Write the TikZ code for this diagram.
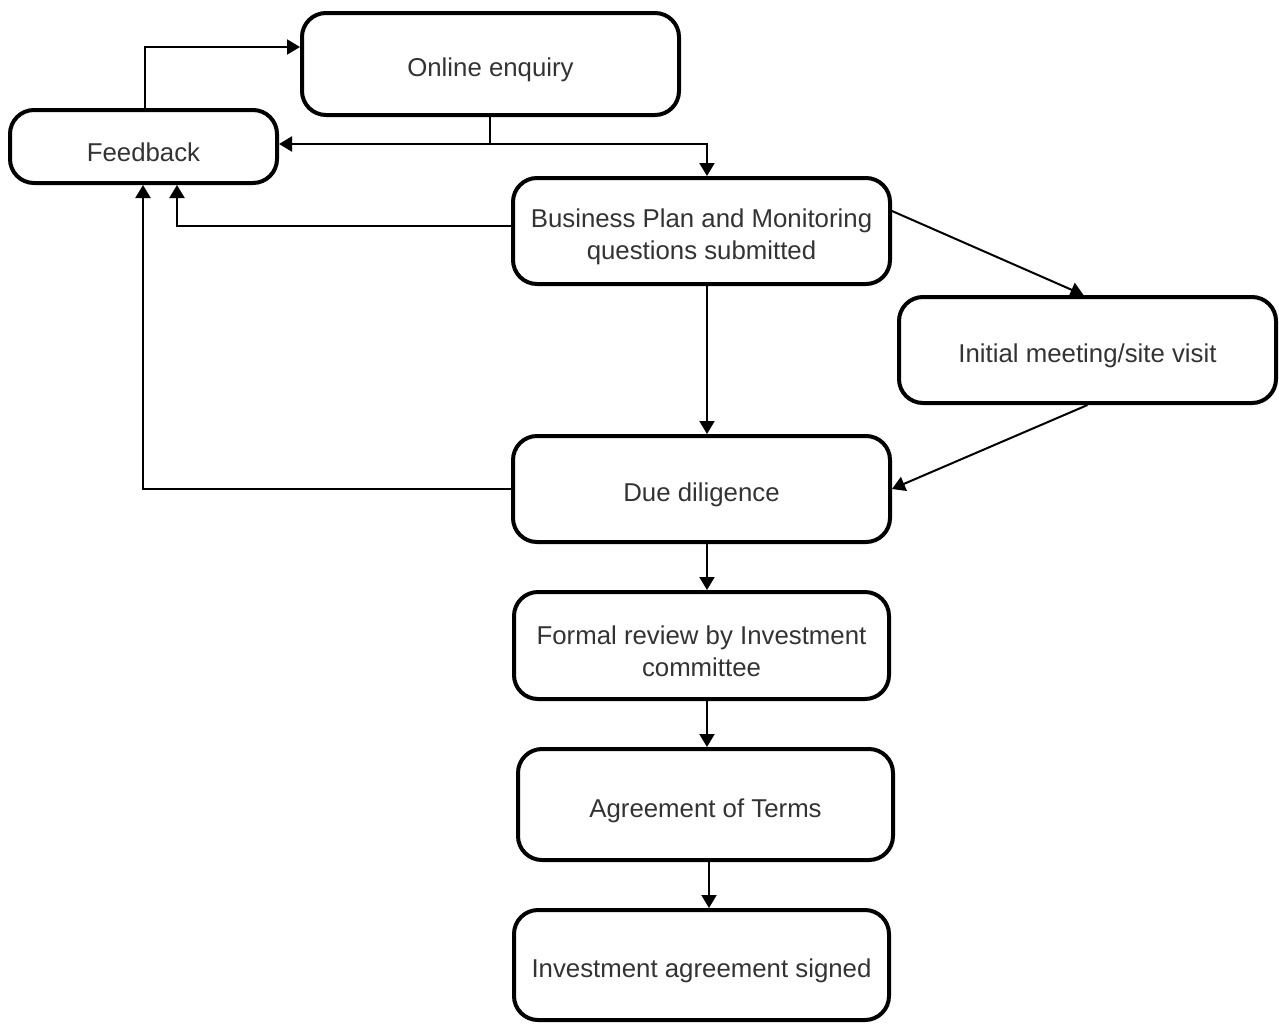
\documentclass[tikz,border=0pt]{standalone}
\usepackage{fontspec}
\setmainfont{Liberation Sans}
\usetikzlibrary{arrows.meta}
\definecolor{txt}{HTML}{333333}
\begin{document}
\begin{tikzpicture}[x=1pt,y=-1pt,
  box/.style={draw=black,line width=4pt,rounded corners=24pt,inner sep=0pt},
  lbl/.style={align=center,text=txt,font=\fontsize{25.8}{32}\selectfont,inner sep=0pt},
  arr/.style={line width=2pt,-{Triangle[width=15pt,length=13pt]}},
  ln/.style={line width=2pt}]
\useasboundingbox (0,0) rectangle (1279,1023);
\node[box,minimum width=377pt,minimum height=102pt] (oe) at (490.5,64) {};
\node[box,minimum width=267pt,minimum height=73pt] (fb) at (143.5,146.5) {};
\node[box,minimum width=377pt,minimum height=106pt] (bp) at (701.5,231) {};
\node[box,minimum width=377pt,minimum height=106pt] (im) at (1087.5,350) {};
\node[box,minimum width=377pt,minimum height=106pt] (dd) at (701.5,489) {};
\node[box,minimum width=375pt,minimum height=107pt] (fr) at (701.5,645.5) {};
\node[box,minimum width=375pt,minimum height=111pt] (at) at (705.5,804.5) {};
\node[box,minimum width=375pt,minimum height=110pt] (ia) at (701.5,965) {};
\node[lbl] (oeT) at ([yshift=-6pt]oe.center) {Online enquiry};
\node[lbl] (fbT) at ([yshift=-6pt]fb.center) {Feedback};
\node[lbl] (bpT) at ([yshift=-6pt]bp.center) {Business Plan and Monitoring\\questions submitted};
\node[lbl] (imT) at ([yshift=-6pt]im.center) {Initial meeting/site visit};
\node[lbl] (ddT) at ([yshift=-6pt]dd.center) {Due diligence};
\node[lbl] (frT) at ([yshift=-6pt]fr.center) {Formal review by Investment\\committee};
\node[lbl] (atT) at ([yshift=-6pt]at.center) {Agreement of Terms};
\node[lbl] (iaT) at ([yshift=-6pt]ia.center) {Investment agreement signed};
\coordinate (j) at (490,144);
\coordinate (y47) at (0,47);
\coordinate (x707) at (707,0);
\coordinate (x709) at (709,0);
% Feedback -> Online enquiry
\draw[arr] ([xshift=1.5pt]fb.north) |- (oe.west |- y47);
% Online enquiry -> Feedback / Business plan
\draw[ln] (oe.south -| j) -- (j);
\draw[arr] (j) -- (fb.east |- j);
\draw[arr] (j) -| (bp.north -| x707);
% Business plan -> Feedback
\draw[arr] ([yshift=5pt]bp.west) -| ([xshift=33.5pt]fb.south);
% Due diligence -> Feedback
\draw[arr] (dd.west) -| ([xshift=-0.5pt]fb.south);
% Business plan -> Due diligence
\draw[arr] (bp.south -| x707) -- (dd.north -| x707);
% Business plan -> Initial meeting
\draw[arr] ([yshift=20pt]bp.east) -- ([xshift=-4pt]im.north);
% Initial meeting -> Due diligence
\draw[arr] (im.south) -- (dd.east);
% chain
\draw[arr] (dd.south -| x707) -- (fr.north -| x707);
\draw[arr] (fr.south -| x707) -- (at.north -| x707);
\draw[arr] (at.south -| x709) -- (ia.north -| x709);
\end{tikzpicture}
\end{document}
